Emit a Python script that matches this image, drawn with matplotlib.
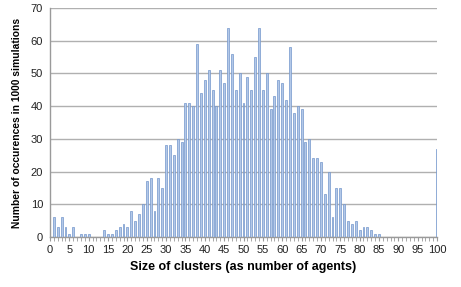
import numpy as np
import matplotlib
matplotlib.use("Agg")
import matplotlib.pyplot as plt

plt.rcParams['font.family'] = ['Liberation Sans', 'DejaVu Sans']

# cluster sizes 0..100 and how often each one occurred
sizes = list(range(0, 101))
counts = [
    0, 6, 3, 6, 3, 1, 3, 0, 1, 1,        # 0-9
    1, 0, 0, 0, 2, 1, 1, 2, 3, 4,        # 10-19
    3, 8, 5, 7, 10, 17, 18, 8, 18, 15,   # 20-29
    28, 28, 25, 30, 29, 41, 41, 40, 59, 44,  # 30-39
    48, 51, 45, 40, 51, 47, 64, 56, 45, 50,  # 40-49
    41, 49, 45, 55, 64, 45, 50, 39, 43, 48,  # 50-59
    47, 42, 58, 38, 40, 39, 29, 30, 24, 24,  # 60-69
    23, 13, 20, 6, 15, 15, 10, 5, 4, 5,      # 70-79
    2, 3, 3, 2, 1, 1, 0, 0, 0, 0,            # 80-89
    0, 0, 0, 0, 0, 0, 0, 0, 0, 0,            # 90-99
    27,                                      # 100
]
xticks = list(range(0, 101, 5))
yticks = list(range(0, 71, 10))

fig = plt.figure(figsize=(4.61, 2.87), dpi=100)
ax = fig.add_axes([50 / 461, 1 - 237 / 287, 387 / 461, 229 / 287])

ax.bar(sizes, counts, width=0.5, color='#b3c8e8', edgecolor='#7396cb',
       linewidth=0.5, zorder=3)

ax.set_xlim(0, 100)
ax.set_ylim(0, 70)
ax.set_xticks(xticks)
ax.set_xticks(sizes, minor=True)
ax.set_yticks(yticks)
ax.yaxis.grid(True, color='#b0b0b0', linewidth=1.0, zorder=0)

for s in ['top', 'right']:
    ax.spines[s].set_visible(False)
for s in ['left', 'bottom']:
    ax.spines[s].set_color('#9a9a9a')
    ax.spines[s].set_linewidth(1.0)

ax.tick_params(axis='x', which='major', length=3, color='#9a9a9a',
               labelsize=8, pad=3, labelcolor='#222222')
ax.tick_params(axis='x', which='minor', length=3, color='#9a9a9a')
ax.tick_params(axis='y', length=0, labelsize=8, pad=5, labelcolor='#222222')

ax.set_xlabel('Size of clusters (as number of agents)', fontsize=9,
              fontweight='bold', labelpad=4)
ax.set_ylabel('Number of occurences in 1000 simulations', fontsize=7.4,
              fontweight='bold', labelpad=6)

fig.savefig('out.png', dpi=100)
